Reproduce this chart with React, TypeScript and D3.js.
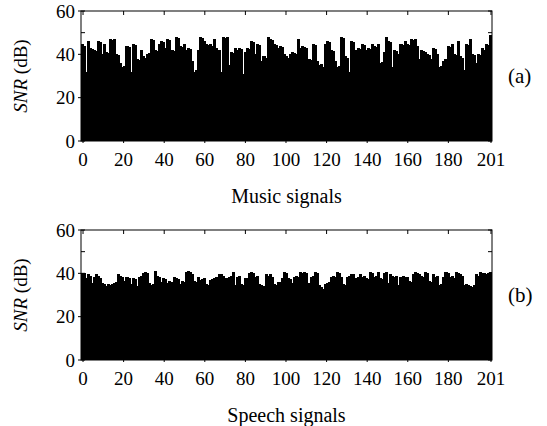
import React, { useRef, useEffect } from 'react'
import * as d3 from 'd3'

// SNR per music signal (dB)
const musicSNR = [
  45, 44, 32, 46, 43, 42.5, 42, 41.5, 46, 45.5,
  40, 45, 41, 40.5, 47, 46.5, 47, 40, 39.5, 36,
  34, 34.5, 44, 43.5, 32, 45, 44.5, 38, 37.5, 42,
  39, 38.5, 40, 40.5, 47, 46.5, 42, 41.5, 45, 46,
  45.5, 43, 47, 46.5, 42, 41.5, 48, 47.5, 44, 43.5,
  45, 42, 43, 42.5, 37, 32, 33, 42, 48, 47.5,
  46, 45, 44.5, 45, 44,
  47, 43, 42, 32, 48,
  47.5, 48, 35, 41, 40.5, 43, 42, 43, 42.5, 31,
  41, 43, 42.5, 46, 45.5, 40, 45, 44.5, 37, 39,
  38.5, 48, 47, 46.5, 45, 44.5, 43, 44, 43.5, 40,
  39, 38.5, 40, 41, 40.5, 40, 47, 43, 44, 43.5,
  43, 38, 37.5, 45, 44.5, 37, 35, 35.5, 34, 45,
  46, 45.5, 42, 41.5, 37, 34, 34.5, 48, 47.5, 39,
  38.5, 32, 46, 45.5, 42, 43, 42.5,
  45, 44.5, 42, 43, 42.5, 45, 44, 43.5, 45, 36,
  36.5, 41, 48, 46, 45.5, 34, 42, 41.5, 40, 45,
  44.5, 46, 45, 44.5, 47, 46.5, 47, 44, 38, 42,
  41.5, 41, 40, 39.5, 38, 43, 42.5, 40, 34, 34.5,
  37, 38, 44, 43.5, 45, 40, 39.5, 46, 39, 38.5,
  33, 45, 44.5, 47, 40, 39.5, 36, 40, 39.5, 43,
  42, 45, 44.5, 49,
]

// SNR per speech signal (dB)
const speechSNR = [
  40, 40, 38, 39.5, 39, 35.5, 38.5, 39.5, 39, 38,
  35.5, 35, 34, 35, 34.5, 35, 35.5, 36, 39.5, 39,
  38.5, 36.5, 38.5, 38, 35, 38, 37.5, 34, 38.5, 39,
  40, 40.5, 40, 35.5, 34.5, 35, 41, 39, 38.5, 36,
  38, 37.5, 35.5, 36.5, 36, 38.5, 38, 37.5, 35, 36.5,
  36, 40.5, 41, 40.5, 39.5, 36.5, 36, 38.5, 37, 37.5,
  38, 35, 34.5, 37, 37.5, 38, 38.5, 39.5,
  39.5, 39, 38, 38, 38.5, 39, 40.5, 34.5, 38.5, 39,
  35, 34.5, 38, 38, 40, 40.5, 40, 38.5, 39, 35,
  34.5, 34, 39.5, 39, 39.5, 38.5, 35, 34.5, 36, 36,
  38, 40.5, 40, 38, 37.5, 35.5, 38.5, 39, 38.5, 40.5,
  40, 40.5, 40, 35.5, 38.5, 39, 40.5, 40, 34.5, 33.5,
  33, 35, 35.5, 36, 38.5, 39, 38.5, 40.5, 40, 38.5,
  35, 34.5, 38.5, 39, 39.5, 39.5, 38, 38.5, 39.5, 38.5,
  39, 38, 37.5,
  40.5, 40, 38.5, 39, 40.5, 38, 37.5, 40, 40.5, 35.5,
  39.5, 39, 38.5, 39, 34.5, 38.5, 39, 38.5, 38.5, 36.5,
  36, 39.5, 40.5, 40, 39.5, 39, 38.5, 40.5, 40, 36.5,
  36, 39.5, 38.5, 39, 34.5, 35, 38.5, 40.5, 40, 38.5,
  39, 38, 40.5, 40, 39.5, 39, 34.5, 35, 34.5, 34,
  33.5, 34.5, 39.5, 39, 40.5, 40, 40, 39.5, 40, 40.5,
]

const xTicks = [0, 20, 40, 60, 80, 100, 120, 140, 160, 180, 201]
const yTicks = [0, 20, 40, 60]
const yMinorTicks = [50]

const panels = [
  { values: musicSNR, xLabel: 'Music signals', tag: '(a)' },
  { values: speechSNR, xLabel: 'Speech signals', tag: '(b)' },
]

export default function App() {
  const svgRef = useRef<SVGSVGElement>(null)

  useEffect(() => {
    const svg = d3.select(svgRef.current)
    svg.selectAll('*').remove()

    const left = 81
    const right = 492
    const plotH = 130
    const tops = [11, 230]
    const font = '"Liberation Serif", "Times New Roman", serif'

    panels.forEach((p, pi) => {
      const top = tops[pi]
      const bottom = top + plotH
      const g = svg.append('g')

      // bars fill the whole box, one band per signal
      const xb = d3
        .scaleBand<number>()
        .domain(p.values.map((_, i) => i))
        .range([left, right])
        .padding(0)

      // tick positions
      const x = d3.scaleLinear().domain([-1, 201.5]).range([left, right])
      const y = d3.scaleLinear().domain([0, 60]).range([bottom, top])

      // snap bars to whole pixels so no seams show between them
      g.selectAll('.bar')
        .data(p.values)
        .join('rect')
        .attr('class', 'bar')
        .attr('x', (_, i) => Math.floor(xb(i)!))
        .attr('y', d => Math.round(y(d)))
        .attr('width', (_, i) => Math.ceil(xb(i)! + xb.bandwidth()) - Math.floor(xb(i)!))
        .attr('height', d => bottom - Math.round(y(d)))
        .attr('fill', '#000')
        .attr('shape-rendering', 'crispEdges')

      // frame
      g.append('rect')
        .attr('x', left)
        .attr('y', top)
        .attr('width', right - left)
        .attr('height', plotH)
        .attr('fill', 'none')
        .attr('stroke', '#000')
        .attr('stroke-width', 1)

      // x ticks: inward at the top, small outward marks at the bottom
      g.selectAll('.xt-top')
        .data(xTicks)
        .join('line')
        .attr('x1', d => x(d))
        .attr('x2', d => x(d))
        .attr('y1', top)
        .attr('y2', top + 4)
        .attr('stroke', '#000')
      g.selectAll('.xt-bot')
        .data(xTicks)
        .join('line')
        .attr('x1', d => x(d))
        .attr('x2', d => x(d))
        .attr('y1', bottom)
        .attr('y2', bottom + 2)
        .attr('stroke', '#000')

      g.selectAll('.xl')
        .data(xTicks)
        .join('text')
        .attr('x', d => x(d))
        .attr('y', bottom + 25)
        .attr('text-anchor', 'middle')
        .style('font-family', font)
        .style('font-size', '19px')
        .text(d => d)

      // y ticks
      g.selectAll('.yt')
        .data(yTicks)
        .join('line')
        .attr('x1', left - 3)
        .attr('x2', left + 4)
        .attr('y1', d => y(d))
        .attr('y2', d => y(d))
        .attr('stroke', '#000')
      g.selectAll('.ytr')
        .data(yTicks.concat(yMinorTicks))
        .join('line')
        .attr('x1', right - 4)
        .attr('x2', right)
        .attr('y1', d => y(d))
        .attr('y2', d => y(d))
        .attr('stroke', '#000')
      g.selectAll('.ytm')
        .data(yMinorTicks)
        .join('line')
        .attr('x1', left)
        .attr('x2', left + 4)
        .attr('y1', d => y(d))
        .attr('y2', d => y(d))
        .attr('stroke', '#000')

      g.selectAll('.yl')
        .data(yTicks)
        .join('text')
        .attr('x', left - 6)
        .attr('y', d => y(d))
        .attr('dy', '0.35em')
        .attr('text-anchor', 'end')
        .style('font-family', font)
        .style('font-size', '19px')
        .text(d => d)

      // y axis title
      const yt = g
        .append('text')
        .attr('transform', `translate(27, ${top + plotH / 2}) rotate(-90)`)
        .attr('text-anchor', 'middle')
        .style('font-family', font)
        .style('font-size', '19px')
      yt.append('tspan').style('font-style', 'italic').text('SNR')
      yt.append('tspan').text(' (dB)')

      // x axis title
      g.append('text')
        .attr('x', (left + right) / 2)
        .attr('y', bottom + 62)
        .attr('text-anchor', 'middle')
        .style('font-family', font)
        .style('font-size', '20px')
        .text(p.xLabel)

      // panel tag
      g.append('text')
        .attr('x', 508)
        .attr('y', top + plotH / 2)
        .attr('dy', '0.35em')
        .style('font-family', font)
        .style('font-size', '21px')
        .text(p.tag)
    })
  }, [])

  return (
    <svg
      ref={svgRef}
      width={547}
      height={426}
      style={{ position: 'absolute', left: 0, top: 0, background: '#fff' }}
    />
  )
}
